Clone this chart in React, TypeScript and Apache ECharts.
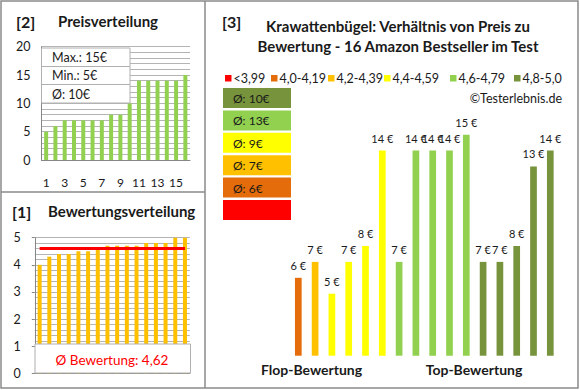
import React, { useEffect, useRef } from "react";
import * as echarts from "echarts";

// ---- data ----
const priceCategories = ["1","2","3","4","5","6","7","8","9","10","11","12","13","14","15","16"];
const priceValues = [5, 6, 7, 7, 7, 7, 7, 8, 8, 10, 14, 14, 14, 14, 14, 15];
const priceStats = ["Max.: 15€", "Min.: 5€", "Ø: 10€"];

const ratingValues = [4.0, 4.3, 4.4, 4.4, 4.5, 4.5, 4.6, 4.7, 4.7, 4.7, 4.7, 4.8, 4.8, 4.8, 5.0, 5.0];
const ratingAvg = 4.62;
const ratingAvgLabel = "Ø Bewertung: 4,62";

const legendLabels = ["<3,99", "4,0-4,19", "4,2-4,39", "4,4-4,59", "4,6-4,79", "4,8-5,0"];
const groupColors = ["#FF0000", "#E46C0A", "#FFC000", "#FFFF00", "#92D050", "#77933C"];
const mainPrices = [6, 7, 5, 7, 8, 14, 7, 14, 14, 14, 15, 7, 7, 8, 13, 14];
const mainGroups = [1, 2, 3, 3, 3, 3, 4, 4, 4, 4, 4, 5, 5, 5, 5, 5];
const boxGroups = [5, 4, 3, 2, 1, 0];
const boxAvgs = ["Ø: 10€", "Ø: 13€", "Ø: 9€", "Ø: 7€", "Ø: 6€", ""];

const titleLines = ["Krawattenbügel: Verhältnis von Preis zu", "Bewertung - 16 Amazon Bestseller im Test"];

const FONT = "Lato, 'Open Sans', sans-serif";
const GRID_C = "#b4b4b4";
const AXIS_C = "#868686";
const TXT = "#1a1a1a";

export default function App() {
  const ref = useRef<HTMLDivElement>(null);
  useEffect(() => {
    if (!ref.current) return;
    const chart = echarts.init(ref.current, undefined, { renderer: "svg" });

    const legendX = [225, 271, 328, 384, 450, 514];
    const graphics: any[] = [];
    const txt = (x: number, y: number, text: string, size: number, weight: string, fill = TXT, align = "left") => ({
      type: "text", z: 110, x, y,
      style: { text, fontSize: size, fontWeight: weight, fontFamily: FONT, fill, textAlign: align, textVerticalAlign: "middle" },
    });

    // panel borders
    graphics.push({ type: "rect", z: 120, shape: { x: 1, y: 1, width: 577, height: 387 }, style: { fill: "none", stroke: "#8a8a8a", lineWidth: 1.5 } });
    graphics.push({ type: "line", z: 120, shape: { x1: 205, y1: 1, x2: 205, y2: 388 }, style: { stroke: "#8a8a8a", lineWidth: 1.5 } });
    graphics.push({ type: "line", z: 120, shape: { x1: 1, y1: 192, x2: 205, y2: 192 }, style: { stroke: "#8a8a8a", lineWidth: 1.5 } });

    // panel titles
    graphics.push(txt(16, 21, "[2]", 16, "bold"));
    graphics.push(txt(58, 21, "Preisverteilung", 15, "bold"));
    graphics.push(txt(12, 211, "[1]", 16, "bold"));
    graphics.push(txt(48, 211, "Bewertungsverteilung", 15, "bold"));
    graphics.push(txt(222, 21, "[3]", 16, "bold"));
    graphics.push(txt(398, 26, titleLines[0], 15, "bold", TXT, "center"));
    graphics.push(txt(398, 46, titleLines[1], 15, "bold", TXT, "center"));

    // price stats box
    graphics.push({ type: "rect", z: 100, shape: { x: 41.5, y: 48, width: 88.5, height: 55 }, style: { fill: "#fff", stroke: "#b0b0b0", lineWidth: 1 } });
    graphics.push({ type: "line", z: 101, shape: { x1: 41.5, y1: 66.5, x2: 130, y2: 66.5 }, style: { stroke: "#b0b0b0", lineWidth: 1 } });
    graphics.push({ type: "line", z: 101, shape: { x1: 41.5, y1: 84.5, x2: 130, y2: 84.5 }, style: { stroke: "#b0b0b0", lineWidth: 1 } });
    priceStats.forEach((s, i) => graphics.push(txt(52, 57.5 + i * 18.3, s, 12.5, "normal")));

    // rating average box
    graphics.push({ type: "rect", z: 100, shape: { x: 35, y: 344, width: 155.5, height: 29 }, style: { fill: "#fff", stroke: "#b0b0b0", lineWidth: 1 } });
    graphics.push(txt(112, 359.5, ratingAvgLabel, 13.5, "normal", "#FF0000", "center"));

    // legend
    legendLabels.forEach((l, i) => {
      graphics.push({ type: "rect", z: 100, shape: { x: legendX[i], y: 75, width: 6.5, height: 6.5 }, style: { fill: groupColors[i] } });
      graphics.push(txt(legendX[i] + 8.5, 78.5, l, 12.5, "normal"));
    });
    graphics.push(txt(562, 98.5, "©Testerlebnis.de", 12.5, "normal", TXT, "right"));

    // average boxes
    boxGroups.forEach((g, i) => {
      const y = 88 + i * 22.4;
      graphics.push({ type: "rect", z: 100, shape: { x: 223, y, width: 68, height: 20 }, style: { fill: groupColors[g] } });
      if (boxAvgs[i]) graphics.push(txt(233, y + 10.5, boxAvgs[i], 12, "normal"));
    });

    graphics.push(txt(311.5, 369, "Flop-Bewertung", 14, "bold", TXT, "center"));
    graphics.push(txt(474, 369, "Top-Bewertung", 14, "bold", TXT, "center"));

    chart.setOption({
      animation: false,
      backgroundColor: "#fff",
      textStyle: { fontFamily: FONT },
      grid: [
        { left: 41.5, top: 46.7, width: 148.5, height: 113.3, outerBoundsMode: "none" },
        { left: 34.8, top: 237.7, width: 155, height: 135.6, outerBoundsMode: "none" },
        { left: 289.9, top: 55.2, width: 268.8, height: 300.5, outerBoundsMode: "none" },
      ],
      xAxis: [
        {
          type: "category", gridIndex: 0, data: priceCategories,
          axisLine: { lineStyle: { color: AXIS_C } }, axisTick: { show: false },
          axisLabel: { interval: 1, margin: 16, fontSize: 12, color: TXT, fontFamily: FONT },
        },
        {
          type: "category", gridIndex: 1, data: priceCategories,
          axisLine: { lineStyle: { color: AXIS_C } }, axisTick: { show: false }, axisLabel: { show: false },
        },
        { type: "category", gridIndex: 2, data: priceCategories, show: false },
      ],
      yAxis: [
        {
          type: "value", gridIndex: 0, min: 0, max: 20, interval: 5,
          axisLine: { show: true, lineStyle: { color: AXIS_C } }, axisTick: { show: false },
          axisLabel: { margin: 11, fontSize: 12.5, color: TXT, fontFamily: FONT },
          splitLine: { lineStyle: { color: GRID_C } },
          minorTick: { show: false, splitNumber: 5 },
          minorSplitLine: { show: true, lineStyle: { color: GRID_C } },
        },
        {
          type: "value", gridIndex: 1, min: 0, max: 5, interval: 1,
          axisLine: { show: true, lineStyle: { color: AXIS_C } },
          axisTick: { show: true, length: 3, lineStyle: { color: AXIS_C } },
          axisLabel: { margin: 14, fontSize: 12.5, color: TXT, fontFamily: FONT },
          splitLine: { lineStyle: { color: GRID_C } },
          minorTick: { show: false, splitNumber: 5 },
          minorSplitLine: { show: true, lineStyle: { color: GRID_C } },
        },
        { type: "value", gridIndex: 2, min: 1.1, max: 20, show: false, splitLine: { show: false } },
      ],
      series: [
        {
          type: "bar", xAxisIndex: 0, yAxisIndex: 0, data: priceValues, barWidth: 4,
          itemStyle: { color: "#92D050" },
        },
        {
          type: "bar", xAxisIndex: 1, yAxisIndex: 1, data: ratingValues, barWidth: 4,
          itemStyle: { color: "#FFC000" },
          markLine: {
            silent: true, symbol: "none", label: { show: false },
            lineStyle: { color: "#FF0000", width: 3, type: "solid" },
            data: [[{ coord: [0, ratingAvg] }, { coord: [15, ratingAvg] }]],
          },
        },
        {
          type: "bar", xAxisIndex: 2, yAxisIndex: 2, barWidth: 6.7,
          data: mainPrices.map((v, i) => ({ value: v, itemStyle: { color: groupColors[mainGroups[i]] } })),
          label: {
            show: true, position: "top", distance: 7, fontSize: 11, color: TXT, fontFamily: FONT,
            formatter: (p: any) => p.value + " €",
          },
        },
      ],
      graphic: graphics,
    });
    return () => chart.dispose();
  }, []);
  return <div ref={ref} style={{ position: "absolute", left: 0, top: 0, width: 580, height: 390 }} />;
}
